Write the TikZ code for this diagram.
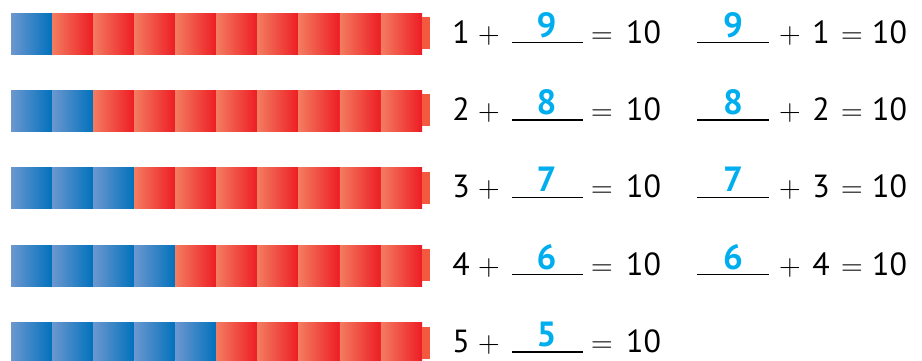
\documentclass[tikz,border=0pt]{standalone}
\usepackage{fix-cm}
\usepackage{fontspec}
\setmainfont{PT Sans}
\definecolor{bluel}{HTML}{6C97CF}
\definecolor{bluer}{HTML}{0071BC}
\definecolor{redl}{HTML}{F37C60}
\definecolor{redr}{HTML}{ED1C24}
\definecolor{tabred}{HTML}{F2593F}
\definecolor{ans}{HTML}{00AEEF}
\tikzset{
  cube/.style={rectangle, inner sep=0pt, outer sep=0pt, minimum width=41.1pt, minimum height=41pt, anchor=north west},
  bluecube/.style={cube, left color=bluel, middle color=bluel!65!bluer, right color=bluer},
  redcube/.style={cube, left color=redl, middle color=redl!75!redr, right color=redr},
  tabbox/.style={rectangle, inner sep=0pt, outer sep=0pt, minimum width=8pt, minimum height=32pt, anchor=north west, fill=tabred},
  eqtext/.style={inner sep=0pt, anchor=base, font=\fontsize{32}{32}\selectfont, text=black},
  optext/.style={inner sep=0pt, anchor=base, font=\fontsize{30}{30}\selectfont, text=black},
  anstext/.style={inner sep=0pt, anchor=base, font=\fontsize{35}{35}\selectfont\bfseries, text=ans},
  blank/.style={line width=1.5pt, black}
}
\begin{document}
\begin{tikzpicture}[x=1pt, y=-1pt]
\useasboundingbox (0,0) rectangle (922,360);
\clip (0,0) rectangle (922,360);
\foreach \i in {0,...,4} {
  \pgfmathsetmacro{\t}{13+77.4*\i}
  \pgfmathtruncatemacro{\n}{\i+1}
  \pgfmathtruncatemacro{\m}{9-\i}
  \foreach \j in {0,...,9} {
    \pgfmathsetmacro{\xx}{11+41.1*\j}
    \ifnum\j<\n
      \node[bluecube] (c\i-\j) at (\xx,\t) {};
    \else
      \node[redcube] (c\i-\j) at (\xx,\t) {};
    \fi
  }
  \node[tabbox] (tab\i) at (422,\t+4) {};
  % left equation
  \node[eqtext] (la\i) at (461,\t+30) {\n};
  \node[optext] (lp\i) at (489,\t+30) {$+$};
  \coordinate (lb\i s) at (512,\t+29.5);
  \coordinate (lb\i e) at (583,\t+29.5);
  \draw[blank] (lb\i s) -- (lb\i e);
  \node[anstext] (lans\i) at (546.5,\t+24) {\m};
  \node[optext] (le\i) at (602,\t+30) {$=$};
  \node[eqtext] (lt\i) at (643.5,\t+30) {10};
  % right equation
  \ifnum\i<4
    \coordinate (rb\i s) at (697,\t+29.5);
    \coordinate (rb\i e) at (769,\t+29.5);
    \draw[blank] (rb\i s) -- (rb\i e);
    \node[anstext] (rans\i) at (733,\t+24) {\m};
    \node[optext] (rp\i) at (790,\t+30) {$+$};
    \node[eqtext] (ra\i) at (821,\t+30) {\n};
    \node[optext] (re\i) at (852,\t+30) {$=$};
    \node[eqtext] (rt\i) at (889.5,\t+30) {10};
  \fi
}
\end{tikzpicture}
\end{document}
